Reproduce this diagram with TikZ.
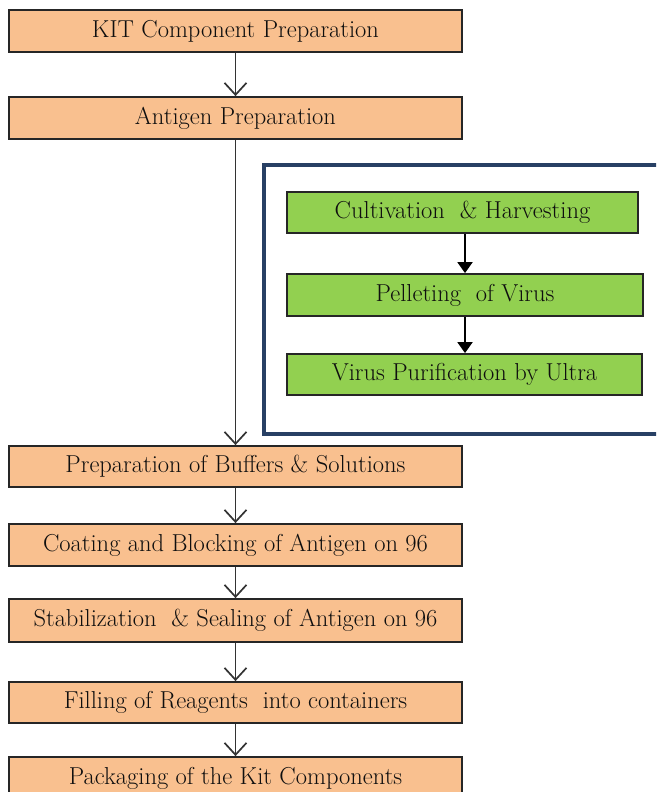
\documentclass[tikz,border=0pt]{standalone}
\usetikzlibrary{arrows.meta}
\definecolor{boxorange}{RGB}{249,192,143}
\definecolor{boxgreen}{RGB}{146,208,80}
\definecolor{frameblue}{RGB}{40,64,100}
\definecolor{txt}{RGB}{15,15,15}
\tikzset{
  obox/.style={draw=black!85, line width=1.8pt, fill=boxorange, minimum width=453pt, inner sep=0pt, text=txt, font=\fontsize{24.5}{29}\selectfont},
  gbox/.style={draw=black!85, line width=1.8pt, fill=boxgreen, inner sep=0pt, text=txt, font=\fontsize{24.5}{29}\selectfont},
  oarrow/.style={draw=black!80, line width=1.7pt, -{Straight Barb[length=12pt,width=22pt,line width=1.7pt]}},
  garrow/.style={draw=black, line width=1.9pt, -{Triangle[length=11pt,width=15pt]}}
}
\begin{document}
\begin{tikzpicture}[x=1pt,y=-1pt]
\useasboundingbox (0,0) rectangle (656,792);
\clip (0,0) rectangle (656,792);
\fill[white] (0,0) rectangle (656,792);
% orange main chain
\node[obox, minimum height=42pt] (k1) at (235.5,31) {KIT Component Preparation};
\node[obox, minimum height=42pt] (k2) at (235.5,118) {Antigen Preparation};
\node[obox, minimum height=41pt] (k3) at (235.5,466.5) {Preparation of Buffers \& Solutions};
\node[obox, minimum height=42pt] (k4) at (235.5,545) {Coating and Blocking of Antigen on 96};
\node[obox, minimum height=43pt] (k5) at (235.5,620.5) {Stabilization\ \ \& Sealing of Antigen on 96};
\node[obox, minimum height=41pt] (k6) at (235.5,702.5) {Filling of Reagents\ \ into containers};
\node[obox, minimum height=42pt] (k7) at (235.5,778) {Packaging of the Kit Components};
% frame
\node[draw=frameblue, line width=4pt, minimum width=420pt, minimum height=269pt, inner sep=0pt, anchor=north west] (fr) at (262,163) {};
% green sub chain
\node[gbox, minimum width=351pt, minimum height=41pt] (g1) at (462.5,212.5) {Cultivation\ \ \& Harvesting};
\node[gbox, minimum width=356pt, minimum height=42pt] (g2) at (465,295) {Pelleting\ \ of Virus};
\node[gbox, minimum width=355pt, minimum height=41pt] (g3) at (464.5,374.5) {Virus Purification by Ultra};
% arrows
\draw[oarrow] (k1) -- (k2);
\draw[oarrow] (k2) -- (k3);
\draw[oarrow] (k3) -- (k4);
\draw[oarrow] (k4) -- (k5);
\draw[oarrow] (k5) -- (k6);
\draw[oarrow] (k6) -- (k7);
\draw[garrow] (g1.south -| g2.north) -- (g2.north);
\draw[garrow] (g2.south) -- (g2.south |- g3.north);
\end{tikzpicture}
\end{document}
